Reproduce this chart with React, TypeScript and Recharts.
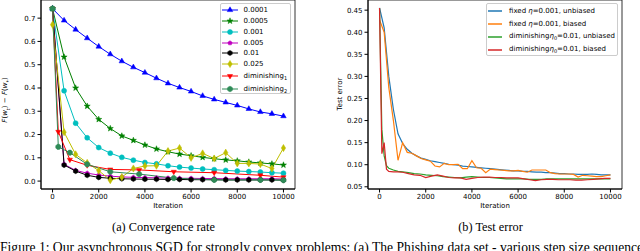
import { LineChart, Line, XAxis, YAxis, ReferenceArea } from 'recharts'

// ---- (a) convergence rate ----
const iters500 = [0, 500, 1000, 1500, 2000, 2500, 3000, 3500, 4000, 4500, 5000, 5500, 6000, 6500, 7000, 7500, 8000, 8500, 9000, 9500, 10000]
const dimIters = [0, 250, 750, 1500, 2500, 3750, 5250, 7000, 9000, 10000]

const step0001 = [0.741, 0.690, 0.651, 0.614, 0.578, 0.545, 0.515, 0.489, 0.466, 0.442, 0.420, 0.402, 0.385, 0.366, 0.351, 0.338, 0.325, 0.310, 0.297, 0.289, 0.279]
const step0005 = [0.741, 0.533, 0.400, 0.322, 0.265, 0.226, 0.194, 0.175, 0.155, 0.138, 0.126, 0.116, 0.109, 0.102, 0.096, 0.091, 0.087, 0.082, 0.078, 0.074, 0.069]
const step001 = [0.741, 0.388, 0.249, 0.186, 0.144, 0.120, 0.102, 0.090, 0.080, 0.074, 0.066, 0.060, 0.056, 0.052, 0.049, 0.046, 0.043, 0.041, 0.039, 0.036, 0.034]
const step005 = [0.741, 0.072, 0.046, 0.034, 0.026, 0.021, 0.018, 0.016, 0.015, 0.014, 0.013, 0.012, 0.012, 0.011, 0.011, 0.010, 0.010, 0.010, 0.010, 0.010, 0.009]
const step01 = [0.741, 0.069, 0.043, 0.025, 0.016, 0.012, 0.010, 0.009, 0.008, 0.008, 0.007, 0.007, 0.006, 0.006, 0.006, 0.005, 0.005, 0.005, 0.005, 0.005, 0.004]
const step025 = [0.672, 0.210, 0.115, 0.078, 0.045, 0.004, 0.017, 0.054, 0.065, 0.066, 0.129, 0.142, 0.100, 0.119, 0.097, 0.122, 0.076, 0.076, 0.073, 0.054, 0.142]
const diminishing1 = [0.741, 0.212, 0.092, 0.068, 0.050, 0.048, 0.040, 0.036, 0.025, 0.017]
const diminishing2 = [0.741, 0.147, 0.122, 0.072, 0.040, 0.030, 0.013, 0.005, 0.005, 0.004]

const iterTicks = [0, 2000, 4000, 6000, 8000, 10000]
const convTicks = [0, 0.1, 0.2, 0.3, 0.4, 0.5, 0.6, 0.7]

// ---- (b) test error ----
const fixedIters = [0, 200, 400, 600, 800, 1000, 1200, 1400, 1600, 1800, 2000, 2200, 2400, 2600, 2800, 3000, 3200, 3400, 3600, 3800, 4000, 4200, 4400, 4600, 4800, 5000, 5200, 5400, 5600, 5800, 6000, 6200, 6400, 6600, 6800, 7000, 7200, 7400, 7600, 7800, 8000, 8200, 8400, 8600, 8800, 9000, 9200, 9400, 9600, 9800, 10000]
const fixedUnbiased = [0.455, 0.410, 0.300, 0.225, 0.170, 0.148, 0.135, 0.126, 0.120, 0.115, 0.112, 0.109, 0.107, 0.105, 0.103, 0.101, 0.100, 0.099, 0.097, 0.096, 0.095, 0.094, 0.093, 0.092, 0.091, 0.090, 0.089, 0.088, 0.087, 0.086, 0.086, 0.085, 0.085, 0.084, 0.083, 0.083, 0.082, 0.082, 0.081, 0.080, 0.080, 0.079, 0.079, 0.078, 0.078, 0.078, 0.079, 0.078, 0.077, 0.077, 0.077]
const fixedBiased = [0.428, 0.400, 0.275, 0.200, 0.110, 0.150, 0.128, 0.126, 0.120, 0.114, 0.111, 0.108, 0.097, 0.095, 0.103, 0.100, 0.100, 0.101, 0.091, 0.091, 0.109, 0.093, 0.092, 0.082, 0.090, 0.089, 0.088, 0.087, 0.086, 0.086, 0.087, 0.085, 0.083, 0.088, 0.088, 0.088, 0.088, 0.082, 0.080, 0.079, 0.079, 0.079, 0.078, 0.072, 0.076, 0.075, 0.074, 0.073, 0.073, 0.075, 0.077]
const dimTestIters = [0, 100, 200, 300, 400, 600, 800, 1000, 1250, 1500, 1750, 2000, 2250, 2500, 2750, 3000, 3250, 3500, 3750, 4000, 4250, 4500, 4750, 5000, 5250, 5500, 5750, 6000, 6250, 6500, 6750, 7000, 7250, 7500, 7750, 8000, 8250, 8500, 8750, 9000, 9250, 9500, 9750, 10000]
const dimUnbiased = [0.455, 0.180, 0.120, 0.098, 0.092, 0.088, 0.085, 0.084, 0.082, 0.080, 0.079, 0.077, 0.076, 0.075, 0.073, 0.072, 0.071, 0.070, 0.072, 0.073, 0.072, 0.071, 0.071, 0.070, 0.069, 0.068, 0.068, 0.068, 0.068, 0.067, 0.067, 0.067, 0.068, 0.068, 0.068, 0.068, 0.068, 0.068, 0.068, 0.068, 0.068, 0.068, 0.068, 0.068]
const dimBiased = [0.455, 0.125, 0.150, 0.090, 0.085, 0.084, 0.084, 0.083, 0.080, 0.077, 0.076, 0.071, 0.074, 0.077, 0.074, 0.071, 0.070, 0.070, 0.067, 0.069, 0.071, 0.072, 0.072, 0.071, 0.071, 0.070, 0.070, 0.070, 0.068, 0.066, 0.064, 0.066, 0.067, 0.067, 0.066, 0.066, 0.066, 0.065, 0.065, 0.066, 0.067, 0.068, 0.069, 0.069]

const errTicks = [0.05, 0.1, 0.15, 0.2, 0.25, 0.3, 0.35, 0.4, 0.45]

const zip = (xs: number[], ys: number[]) => xs.map((x, i) => ({ x, y: ys[i] }))

const font = '"DejaVu Sans", sans-serif'
const serif = '"Liberation Serif", serif'

type Shape = '^' | '*' | 'o' | 'p' | 'h' | 'd' | 'v' | '8'

function Marker({ shape, cx, cy, color, size }: { shape: Shape; cx: number; cy: number; color: string; size: number }) {
  const regular = (n: number, r: number, rot: number) =>
    Array.from({ length: n }, (_, k) => {
      const a = rot + (k * 2 * Math.PI) / n
      return [r * Math.sin(a), -r * Math.cos(a)]
    })
  let pts: number[][] = []
  if (shape === 'o') return <circle cx={cx} cy={cy} r={size} fill={color} stroke={color} strokeWidth={0.5} />
  if (shape === '^') pts = regular(3, size, 0)
  if (shape === 'v') pts = regular(3, size, Math.PI)
  if (shape === 'p') pts = regular(5, size, 0)
  if (shape === 'h') pts = regular(6, size, 0)
  if (shape === '8') pts = regular(8, size, Math.PI / 8)
  if (shape === 'd') pts = [[0, -size], [size * 0.6, 0], [0, size], [-size * 0.6, 0]]
  if (shape === '*')
    pts = Array.from({ length: 10 }, (_, k) => {
      const a = (k * Math.PI) / 5
      const r = k % 2 === 0 ? size : size * 0.42
      return [r * Math.sin(a), -r * Math.cos(a)]
    })
  return (
    <polygon
      points={pts.map(p => `${cx + p[0]},${cy + p[1]}`).join(' ')}
      fill={color}
      stroke={color}
      strokeWidth={0.5}
      strokeLinejoin="round"
    />
  )
}

const convSeries: { name: string; label: any; color: string; shape: Shape; size: number; data: { x: number; y: number }[] }[] = [
  { name: 's0001', label: '0.0001', color: '#0000ff', shape: '^', size: 3.2, data: zip(iters500, step0001) },
  { name: 's0005', label: '0.0005', color: '#008000', shape: '*', size: 3.2, data: zip(iters500, step0005) },
  { name: 's001', label: '0.001', color: '#00bfbf', shape: 'o', size: 2.5, data: zip(iters500, step001) },
  { name: 's005', label: '0.005', color: '#bf00bf', shape: 'p', size: 2.3, data: zip(iters500, step005) },
  { name: 's01', label: '0.01', color: '#000000', shape: 'h', size: 2.6, data: zip(iters500, step01) },
  { name: 's025', label: '0.025', color: '#bfbf00', shape: 'd', size: 3.6, data: zip(iters500, step025) },
  { name: 'd1', label: <>diminishing<sub style={{ fontSize: 5 }}>1</sub></>, color: '#ff0000', shape: 'v', size: 3, data: zip(dimIters, diminishing1) },
  { name: 'd2', label: <>diminishing<sub style={{ fontSize: 5 }}>2</sub></>, color: '#2e8b57', shape: '8', size: 2.8, data: zip(dimIters, diminishing2) },
]

const eta = <i style={{ fontFamily: font }}>η</i>
const errSeries = [
  { name: 'fu', label: <>fixed {eta}=0.001, unbiased</>, color: '#1f77b4', data: zip(fixedIters, fixedUnbiased) },
  { name: 'fb', label: <>fixed {eta}=0.001, biased</>, color: '#ff7f0e', data: zip(fixedIters, fixedBiased) },
  { name: 'du', label: <>diminishing{eta}<sub style={{ fontSize: 5 }}>0</sub>=0.01, unbiased</>, color: '#2ca02c', data: zip(dimTestIters, dimUnbiased) },
  { name: 'db', label: <>diminishing{eta}<sub style={{ fontSize: 5 }}>0</sub>=0.01, biased</>, color: '#d62728', data: zip(dimTestIters, dimBiased) },
]

const tickStyle = { fontSize: 7, fill: '#000', fontFamily: font }

const abs = (left: number, top: number, extra: any = {}) => ({ position: 'absolute' as const, left, top, ...extra })

export default function App() {
  return (
    <div style={{ position: 'absolute', left: 0, top: 0, width: 640, height: 251, overflow: 'hidden', background: '#fff', fontFamily: font }}>
      {/* (a) */}
      <div style={abs(0, 0)}>
        <LineChart width={300} height={215} margin={{ top: 0, right: 5, bottom: 0, left: 0 }}>
          <XAxis type="number" dataKey="x" domain={[-500, 10500]} ticks={iterTicks} allowDataOverflow
            tickSize={3.5} tickMargin={1.5} height={26} tick={tickStyle} stroke="#000" />
          <YAxis type="number" dataKey="y" domain={[-0.034, 0.778]} ticks={convTicks} allowDataOverflow
            tickFormatter={(v: number) => v.toFixed(1)} tickSize={3.5} tickMargin={2} width={41} tick={tickStyle} stroke="#000" />
          <ReferenceArea x1={-500} x2={10500} y1={-0.034} y2={0.778} fill="none" stroke="#000" strokeWidth={0.8} />
          {convSeries.map(s => (
            <Line key={s.name} data={s.data} dataKey="y" stroke={s.color} strokeWidth={1} isAnimationActive={false}
              activeDot={false} type="linear"
              dot={(p: any) => <Marker key={`${s.name}-${p.index}`} shape={s.shape} cx={p.cx} cy={p.cy} color={s.color} size={s.size} />} />
          ))}
        </LineChart>
      </div>
      <div style={abs(168, 202, { transform: 'translateX(-50%)', fontSize: 7, whiteSpace: 'nowrap' })}>Iteration</div>
      <div style={abs(6, 100, { transform: 'translate(-50%, -50%) rotate(-90deg)', fontSize: 7, whiteSpace: 'nowrap' })}>
        <i>F</i>(<i>w</i><sub style={{ fontSize: 5 }}><i>t</i></sub>) − <i>F</i>(<i>w</i><sub style={{ fontSize: 5 }}>*</sub>)
      </div>
      <div style={abs(220, 3, { width: 71, height: 91, border: '1px solid #ccc', borderRadius: 2, background: 'rgba(255,255,255,0.8)', boxSizing: 'border-box' })}>
        {convSeries.map((s, i) => (
          <div key={s.name} style={abs(1, [6, 17, 28, 38.7, 49.3, 60, 72.3, 85.3][i] - 5, { height: 10, display: 'flex', alignItems: 'center', fontSize: 7, whiteSpace: 'nowrap' })}>
            <svg width={16} height={10} style={{ marginRight: 5.5 }}>
              <line x1={0} y1={5} x2={16} y2={5} stroke={s.color} strokeWidth={1} />
              <Marker shape={s.shape} cx={8} cy={5} color={s.color} size={s.size} />
            </svg>
            <span>{s.label}</span>
          </div>
        ))}
      </div>

      {/* (b) */}
      <div style={abs(320, 0)}>
        <LineChart width={305} height={215} margin={{ top: 0, right: 3, bottom: 0, left: 0 }}>
          <XAxis type="number" dataKey="x" domain={[-500, 10500]} ticks={iterTicks} allowDataOverflow
            tickSize={3.5} tickMargin={1.5} height={26} tick={tickStyle} stroke="#000" />
          <YAxis type="number" dataKey="y" domain={[0.045, 0.473]} ticks={errTicks} allowDataOverflow
            tickFormatter={(v: number) => v.toFixed(2)} tickSize={3.5} tickMargin={2} width={48} tick={tickStyle} stroke="#000" />
          <ReferenceArea x1={-500} x2={10500} y1={0.045} y2={0.473} fill="none" stroke="#000" strokeWidth={0.8} />
          {errSeries.map(s => (
            <Line key={s.name} data={s.data} dataKey="y" stroke={s.color} strokeWidth={1.2} isAnimationActive={false}
              activeDot={false} dot={false} type="linear" />
          ))}
        </LineChart>
      </div>
      <div style={abs(495, 202, { transform: 'translateX(-50%)', fontSize: 7, whiteSpace: 'nowrap' })}>Iteration</div>
      <div style={abs(340, 94, { transform: 'translate(-50%, -50%) rotate(-90deg)', fontSize: 7, whiteSpace: 'nowrap' })}>Test error</div>
      <div style={abs(486, 3, { width: 132, height: 53, border: '1px solid #ccc', borderRadius: 2, background: 'rgba(255,255,255,0.8)', boxSizing: 'border-box' })}>
        {errSeries.map((s, i) => (
          <div key={s.name} style={abs(1, [7, 20.3, 32.5, 46][i] - 5, { height: 10, display: 'flex', alignItems: 'center', fontSize: 7, whiteSpace: 'nowrap' })}>
            <svg width={14} height={10} style={{ marginRight: 7 }}>
              <line x1={0} y1={5} x2={14} y2={5} stroke={s.color} strokeWidth={1.5} />
            </svg>
            <span>{s.label}</span>
          </div>
        ))}
      </div>

      {/* captions */}
      <div style={abs(163.5, 220, { transform: 'translateX(-50%)', fontFamily: serif, fontSize: 12.3, lineHeight: '14px', whiteSpace: 'nowrap' })}>(a) Convergence rate</div>
      <div style={abs(490.5, 220, { transform: 'translateX(-50%)', fontFamily: serif, fontSize: 12.3, lineHeight: '14px', whiteSpace: 'nowrap' })}>(b) Test error</div>
      <div style={abs(0, 240, { fontFamily: serif, fontSize: 13.6, lineHeight: '15px', whiteSpace: 'nowrap' })}>
        Figure 1: Our asynchronous SGD for strongly convex problems: (a) The Phishing data set - various step size sequence
      </div>
    </div>
  )
}
